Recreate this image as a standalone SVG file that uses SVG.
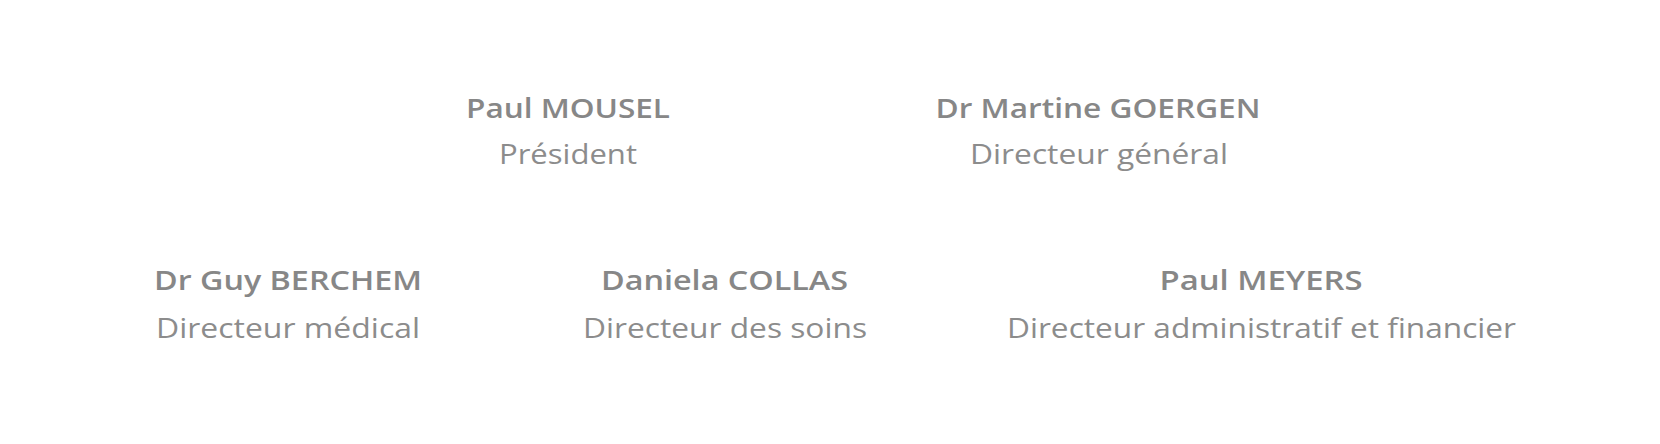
<svg xmlns="http://www.w3.org/2000/svg" width="1660" height="444" viewBox="0 0 1660 444">
<style>
text{font-family:"Open Sans","Liberation Sans",sans-serif;text-anchor:middle;font-size:27.5px}
.n{fill:#878787;font-weight:600}
.t{fill:#8c8c8c;font-weight:400}
</style>
<rect width="1660" height="444" fill="#fff"/>
<g id="president"><text class="n" x="568" y="117.5" textLength="204" lengthAdjust="spacingAndGlyphs">Paul MOUSEL</text><text class="t" x="568" y="164" textLength="138" lengthAdjust="spacingAndGlyphs">Président</text></g>
<g id="dg"><text class="n" x="1098" y="117.5" textLength="325" lengthAdjust="spacingAndGlyphs">Dr Martine GOERGEN</text><text class="t" x="1099" y="164" textLength="258" lengthAdjust="spacingAndGlyphs">Directeur général</text></g>
<g id="medical"><text class="n" x="288" y="290" textLength="268" lengthAdjust="spacingAndGlyphs">Dr Guy BERCHEM</text><text class="t" x="288" y="337.5" textLength="264" lengthAdjust="spacingAndGlyphs">Directeur médical</text></g>
<g id="soins"><text class="n" x="724.5" y="290" textLength="247" lengthAdjust="spacingAndGlyphs">Daniela COLLAS</text><text class="t" x="725" y="337.5" textLength="284" lengthAdjust="spacingAndGlyphs">Directeur des soins</text></g>
<g id="admin"><text class="n" x="1261" y="290" textLength="203" lengthAdjust="spacingAndGlyphs">Paul MEYERS</text><text class="t" x="1261.5" y="337.5" textLength="509" lengthAdjust="spacingAndGlyphs">Directeur administratif et financier</text></g>
<g id="connectors"></g>
</svg>
